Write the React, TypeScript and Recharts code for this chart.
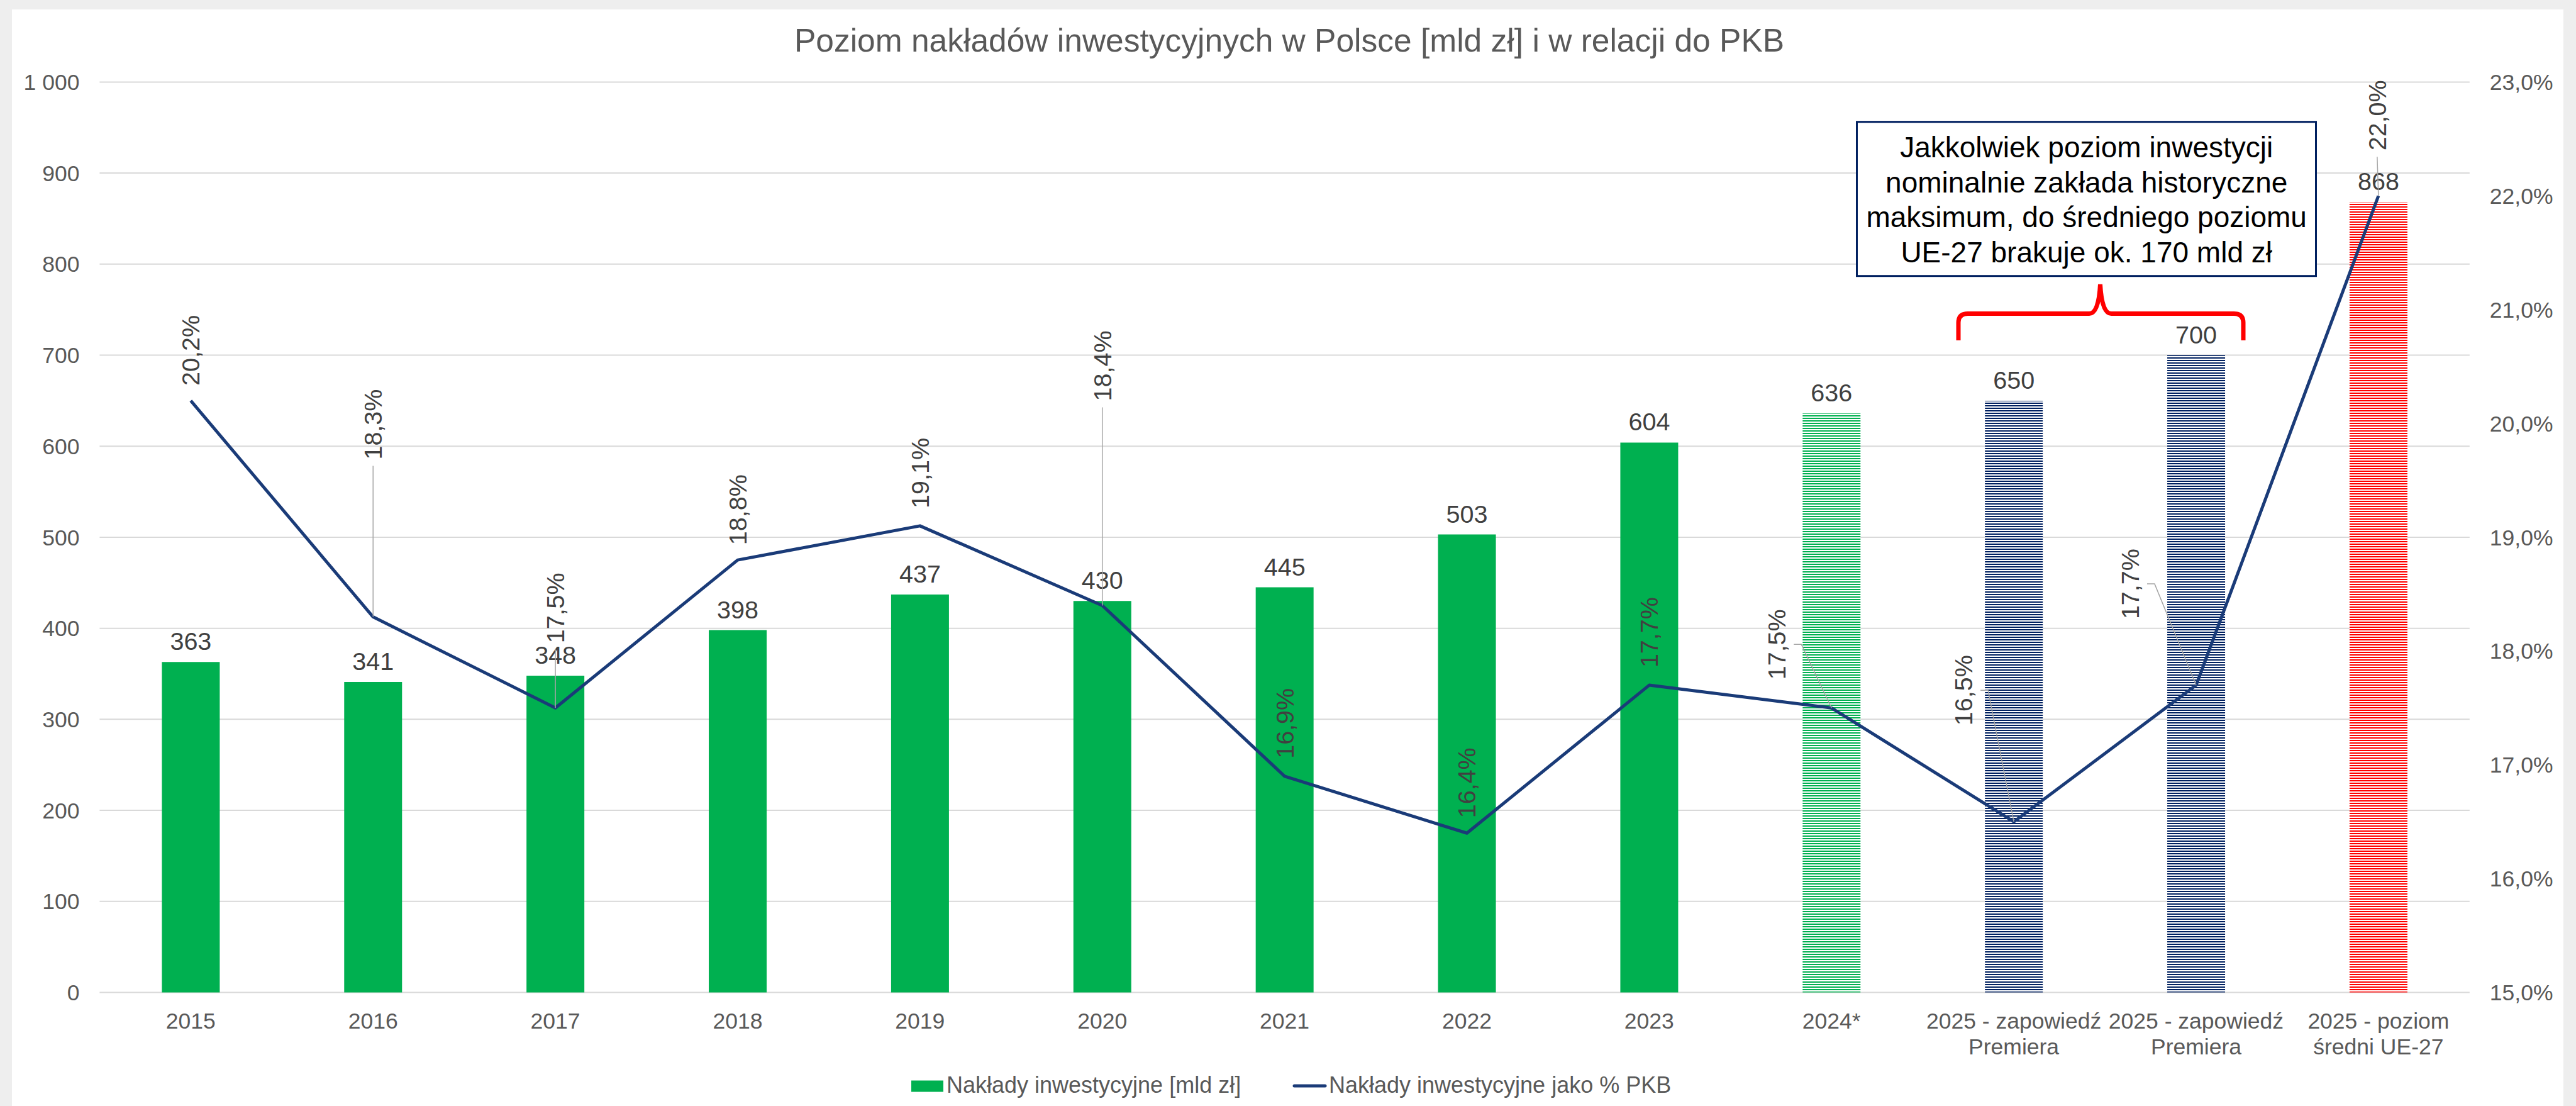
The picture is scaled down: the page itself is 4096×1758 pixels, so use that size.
import React from "react";
import { ComposedChart, Bar, Line, XAxis, YAxis, CartesianGrid, Cell, LabelList } from "recharts";

// chart data
const categories = [
    "2015", "2016", "2017", "2018", "2019", "2020", "2021", "2022", "2023", "2024*",
    "2025 - zapowiedź Premiera", "2025 - zapowiedź Premiera", "2025 - poziom średni UE-27",
];
const investment = [363, 341, 348, 398, 437, 430, 445, 503, 604, 636, 650, 700, 868]; // mld zł
const gdpShare = [20.2, 18.3, 17.5, 18.8, 19.1, 18.4, 16.9, 16.4, 17.7, 17.5, 16.5, 17.7, 22.0]; // % PKB
const leftTicks = [0, 100, 200, 300, 400, 500, 600, 700, 800, 900, 1000];
const rightTicks = [15, 16, 17, 18, 19, 20, 21, 22, 23];

const titleText = "Poziom nakładów inwestycyjnych w Polsce [mld zł] i w relacji do PKB";
const legendLabels = ["Nakłady inwestycyjne [mld zł]", "Nakłady inwestycyjne jako % PKB"];
const noteLines = [
    "Jakkolwiek poziom inwestycji",
    "nominalnie zakłada historyczne",
    "maksimum, do średniego poziomu",
    "UE-27 brakuje ok. 170 mld zł",
];

// styling per bar (solid vs striped fills)
const barFills = [
    "#00B050", "#00B050", "#00B050", "#00B050", "#00B050", "#00B050", "#00B050", "#00B050", "#00B050",
    "url(#stripeGreen)", "url(#stripeNavy)", "url(#stripeNavy)", "url(#stripeRed)",
];

// where the rotated % labels sit relative to their point: [dx, dy, leader line]
const pctLabelOffset: [number, number, string][] = [
    [0, -80, ""], [0, -306, "v"], [0, -159, "v"], [0, -80, ""], [0, -84, ""], [0, -381, "v"],
    [0, -84, ""], [0, -80, ""], [0, -84, ""], [-87, -101, "d"], [-80, -209, "d"], [-105, -161, "d"],
    [-2, -128, "v"],
];

const FONT = "'Liberation Sans', Arial, Helvetica, sans-serif";
const LINE_COLOR = "#1A3B78";
const GRID = "#D9D9D9";
const AXIS_TEXT = "#595959";
const LABEL_TEXT = "#404040";

const data = categories.map((cat, i) => ({ cat, value: investment[i], pct: gdpShare[i] }));

const fmtThousands = (v: number) => String(v).replace(/\B(?=(\d{3})+(?!\d))/g, " ");
const fmtPct = (v: number) => v.toFixed(1).replace(".", ",") + "%";

// greedy word wrap, the category band only fits ~16 characters
const wrapWords = (s: string, maxChars: number) => {
    const lines: string[] = [];
    let cur = "";
    s.split(" ").forEach((w) => {
        const next = cur ? cur + " " + w : w;
        if (next.length > maxChars && cur) {
            lines.push(cur);
            cur = w;
        } else {
            cur = next;
        }
    });
    if (cur) lines.push(cur);
    return lines;
};

const renderBarLabel = (props: any) => {
    const { x, y, width, value } = props;
    return (
        <text x={x + width / 2} y={y - 19} textAnchor="middle" fontSize={39.5} fill={LABEL_TEXT}>
            {value}
        </text>
    );
};

const renderPctLabel = (props: any) => {
    const { x, y, value, index } = props;
    const [dx, dy, leader] = pctLabelOffset[index];
    const cx = x + dx;
    const cy = y + dy;
    return (
        <g>
            {leader === "v" && (
                <line x1={cx} y1={cy + 66} x2={x} y2={y} stroke="#A6A6A6" strokeWidth={1.5} />
            )}
            {leader === "d" && (
                <polyline
                    points={`${cx + 27},${cy} ${cx + 39},${cy} ${x},${y}`}
                    fill="none"
                    stroke="#A6A6A6"
                    strokeWidth={1.5}
                />
            )}
            <text
                x={cx}
                y={cy}
                transform={`rotate(-90 ${cx} ${cy})`}
                textAnchor="middle"
                dominantBaseline="central"
                fontSize={39.5}
                fill={LABEL_TEXT}
            >
                {fmtPct(value)}
            </text>
        </g>
    );
};

const CategoryTick = (props: any) => {
    const { x, y, payload } = props;
    const lines = wrapWords(String(payload.value), 16);
    return (
        <text x={x} y={y + 25} textAnchor="middle" fontSize={35.5} fill={AXIS_TEXT}>
            {lines.map((ln, i) => (
                <tspan key={i} x={x} dy={i === 0 ? 0 : 41}>
                    {ln}
                </tspan>
            ))}
        </text>
    );
};

const Stripes = ({ id, color }: { id: string; color: string }) => (
    <pattern id={id} patternUnits="userSpaceOnUse" width={10} height={4}>
        <rect width={10} height={4} fill="#FFFFFF" />
        <rect width={10} height={2} fill={color} />
    </pattern>
);

const App: React.FC = () => {
    return (
        <div
            style={{
                position: "fixed",
                left: 0,
                top: 0,
                width: 4096,
                height: 1758,
                background: "#EEEEEE",
                fontFamily: FONT,
                overflow: "hidden",
            }}
        >
            <svg width={0} height={0} style={{ position: "absolute" }}>
                <defs>
                    <Stripes id="stripeGreen" color="#00B050" />
                    <Stripes id="stripeNavy" color="#002060" />
                    <Stripes id="stripeRed" color="#FF0000" />
                </defs>
            </svg>
            <div style={{ position: "absolute", left: 19, top: 14.5, width: 4057, height: 1743.5, background: "#FFFFFF" }} />

            <div style={{ position: "absolute", left: 0, top: 0 }}>
                <ComposedChart
                    width={4096}
                    height={1758}
                    data={data}
                    margin={{ top: 130.4, right: 49.2, bottom: 80.5, left: 38.4 }}
                >
                    <CartesianGrid yAxisId="left" vertical={false} stroke={GRID} strokeWidth={2} />
                    <XAxis
                        dataKey="cat"
                        height={100}
                        axisLine={false}
                        tickLine={false}
                        tickSize={0}
                        tickMargin={32}
                        interval={0}
                        tick={<CategoryTick />}
                    />
                    <YAxis
                        yAxisId="left"
                        width={120}
                        domain={[0, 1000]}
                        ticks={leftTicks}
                        axisLine={false}
                        tickLine={false}
                        tickSize={0}
                        tickMargin={32}
                        tickFormatter={fmtThousands}
                        tick={{ fontSize: 35.5, fill: AXIS_TEXT }}
                    />
                    <YAxis
                        yAxisId="right"
                        orientation="right"
                        width={120}
                        domain={[15, 23]}
                        ticks={rightTicks}
                        axisLine={false}
                        tickLine={false}
                        tickSize={0}
                        tickMargin={32}
                        tickFormatter={fmtPct}
                        tick={{ fontSize: 35.5, fill: AXIS_TEXT }}
                    />
                    <Bar yAxisId="left" dataKey="value" barSize={92} isAnimationActive={false}>
                        {data.map((_, i) => (
                            <Cell key={i} fill={barFills[i]} />
                        ))}
                        <LabelList dataKey="value" content={renderBarLabel} />
                    </Bar>
                    <Line
                        yAxisId="right"
                        type="linear"
                        dataKey="pct"
                        stroke={LINE_COLOR}
                        strokeWidth={5}
                        strokeLinejoin="round"
                        dot={false}
                        activeDot={false}
                        isAnimationActive={false}
                    >
                        <LabelList dataKey="pct" content={renderPctLabel} />
                    </Line>
                </ComposedChart>
            </div>

            {/* title, note box, brace and legend */}
            <svg
                width={4096}
                height={1758}
                style={{ position: "absolute", left: 0, top: 0, pointerEvents: "none" }}
            >
                <text x={2050} y={82} textAnchor="middle" fontSize={51.5} fill={AXIS_TEXT}>
                    {titleText}
                </text>

                <rect x={2952.5} y={193.7} width={730} height={245} fill="#FFFFFF" stroke="#002060" strokeWidth={3} />
                {noteLines.map((line, i) => (
                    <text key={i} x={3317.7} y={250 + i * 55.5} textAnchor="middle" fontSize={46} fill="#000000">
                        {line}
                    </text>
                ))}
                <path
                    d="M 3114 541 L 3114 513 Q 3114 498.5 3129 498.5 L 3322 498.5 Q 3337 498.5 3339.5 452 Q 3342 498.5 3357 498.5 L 3552 498.5 Q 3567 498.5 3567 513 L 3567 541"
                    fill="none"
                    stroke="#FF0000"
                    strokeWidth={7}
                />

                <rect x={1449} y={1717.5} width={51} height={18} fill="#00B050" />
                <text x={1505} y={1737} fontSize={36} fill={AXIS_TEXT}>
                    {legendLabels[0]}
                </text>
                <line x1={2058} y1={1726} x2={2107} y2={1726} stroke={LINE_COLOR} strokeWidth={5} strokeLinecap="round" />
                <text x={2113} y={1737} fontSize={36} fill={AXIS_TEXT}>
                    {legendLabels[1]}
                </text>
            </svg>
        </div>
    );
};

export default App;
